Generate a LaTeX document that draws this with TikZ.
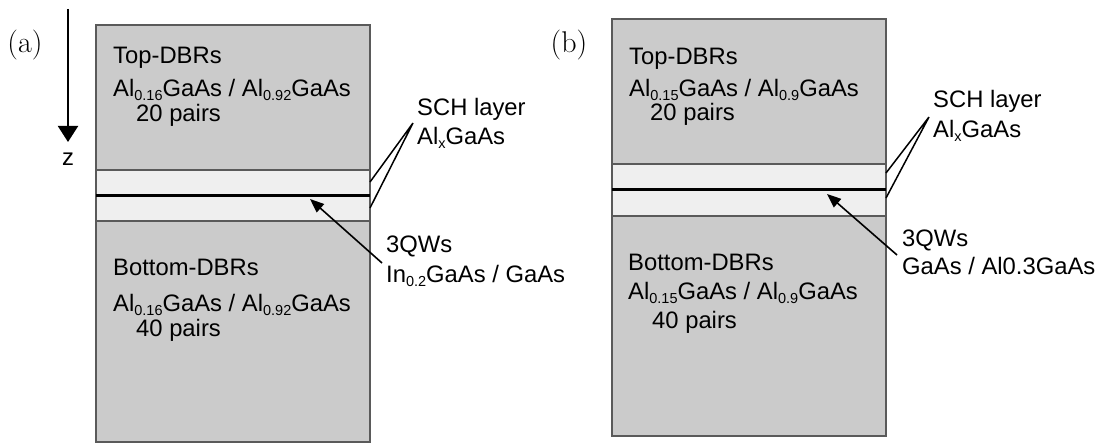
\documentclass[tikz,border=0pt]{standalone}
\usepackage{fontspec}
\newfontfamily\arial{Liberation Sans}
\usetikzlibrary{arrows.meta}
\definecolor{dbrgray}{HTML}{CBCBCB}
\definecolor{schgray}{HTML}{EFEFEF}
\definecolor{edgegray}{HTML}{5A5A5A}
\newcommand\mysub[1]{\raisebox{-4pt}{\fontsize{14.5}{14}\selectfont #1}}
\tikzset{
  lbl/.style={anchor=base west, inner sep=0pt, font=\arial\fontsize{23.8}{26}\selectfont},
  dbr/.style={fill=dbrgray, draw=edgegray, line width=1.3pt},
  sch/.style={fill=schgray, draw=edgegray, line width=1.3pt},
  qw/.style={line width=3pt},
  ptr/.style={line width=1.6pt, -{Triangle[length=14pt,width=11pt]}},
  lead/.style={line width=1.5pt},
  panel/.style={anchor=base, inner sep=0pt, font=\fontsize{30}{32}\selectfont}
}
\begin{document}
\begin{tikzpicture}[x=1pt,y=-1pt]
\useasboundingbox (0,0) rectangle (1107,443);
% ---------- panel (a) ----------
\draw[dbr] (96,25) rectangle (370,170);
\draw[sch] (96,170) rectangle (370,221);
\draw[dbr] (96,221) rectangle (370,442);
\draw[qw] (96,196) -- (370,196);
\node[panel] (la) at (25,53) {(a)};
\coordinate (zs) at (68,9);
\coordinate (zt) at (68,142);
\draw[line width=2pt, -{Triangle[length=16pt,width=20pt]}] (zs) -- (zt);
\node[anchor=base, inner sep=0pt, font=\arial\fontsize{23.8}{26}\selectfont] (z) at (68,166) {z};
\node[lbl] (aT1) at (113,64) {Top-DBRs};
\node[lbl] (aT2) at (113,97) {Al\mysub{0.16}GaAs / Al\mysub{0.92}GaAs};
\node[lbl] (aT3) at (136,122) {20 pairs};
\node[lbl] (aB1) at (113,276) {Bottom-DBRs};
\node[lbl] (aB2) at (113,312) {Al\mysub{0.16}GaAs / Al\mysub{0.92}GaAs};
\node[lbl] (aB3) at (136,336) {40 pairs};
\node[lbl] (aS1) at (417,116) {SCH layer};
\node[lbl] (aS2) at (417,145) {Al\mysub{x}GaAs};
\node[lbl] (aQ1) at (386,253) {3QWs};
\node[lbl] (aQ2) at (386,283) {In\mysub{0.2}GaAs / GaAs};
\coordinate (aSp) at (413,123);
\coordinate (aSu) at (370,182);
\coordinate (aSd) at (370,208);
\draw[lead] (aSu) -- (aSp) -- (aSd);
\coordinate (aQs) at (382,263);
\coordinate (aQt) at (310,199);
\draw[ptr] (aQs) -- (aQt);
% ---------- panel (b) ----------
\draw[dbr] (612,19) rectangle (886,164);
\draw[sch] (612,164) rectangle (886,216);
\draw[dbr] (612,216) rectangle (886,436);
\draw[qw] (612,190) -- (886,190);
\node[panel] (lb) at (569,53) {(b)};
\node[lbl] (bT1) at (629,65) {Top-DBRs};
\node[lbl] (bT2) at (629,97) {Al\mysub{0.15}GaAs / Al\mysub{0.9}GaAs};
\node[lbl] (bT3) at (650,121) {20 pairs};
\node[lbl] (bB1) at (628,271) {Bottom-DBRs};
\node[lbl] (bB2) at (628,300) {Al\mysub{0.15}GaAs / Al\mysub{0.9}GaAs};
\node[lbl] (bB3) at (652,328) {40 pairs};
\node[lbl] (bS1) at (933,108) {SCH layer};
\node[lbl] (bS2) at (933,138) {Al\mysub{x}GaAs};
\node[lbl] (bQ1) at (902,247) {3QWs};
\node[lbl] (bQ2) at (902,275) {GaAs / Al0.3GaAs};
\coordinate (bSp) at (929,117);
\coordinate (bSu) at (886,173);
\coordinate (bSd) at (886,198);
\draw[lead] (bSu) -- (bSp) -- (bSd);
\coordinate (bQs) at (897,255);
\coordinate (bQt) at (827,194);
\draw[ptr] (bQs) -- (bQt);
\end{tikzpicture}
\end{document}
